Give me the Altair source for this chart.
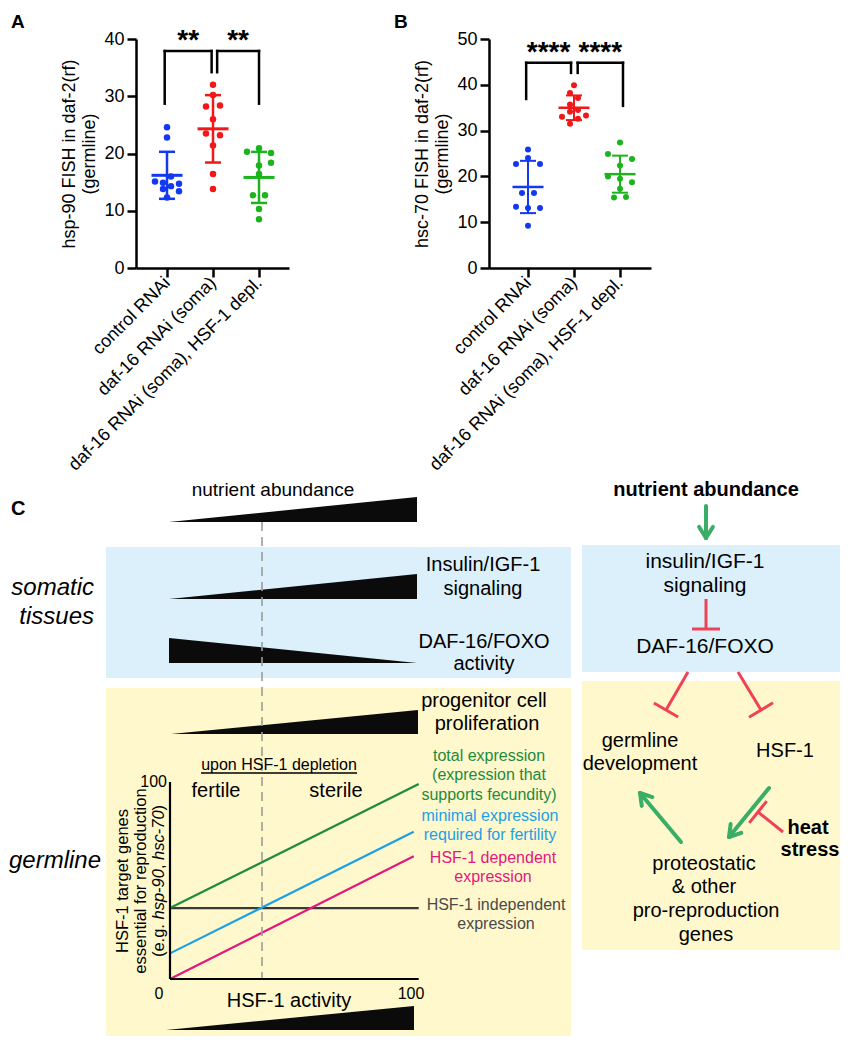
import math
import altair as alt
import pandas as pd

FONT = "Liberation Sans"

# ---------------- Panels A and B: data ----------------
GROUPS = ["control RNAi", "daf-16 RNAi (soma)", "daf-16 RNAi (soma), HSF-1 depl."]

# Panel A: hsp-90 FISH in daf-2(rf) (germline), one value per animal
hsp90_control = [24.6, 22.8, 16.0, 15.1, 14.9, 14.7, 14.3, 13.8, 13.4, 12.3]
hsp90_daf16 = [32.0, 30.2, 28.2, 28.4, 26.0, 23.5, 23.2, 21.4, 16.4, 13.8]
hsp90_daf16_hsf1 = [20.3, 20.9, 20.1, 18.4, 17.9, 16.4, 12.7, 12.7, 10.3, 8.5]

# Panel B: hsc-70 FISH in daf-2(rf) (germline)
hsc70_control = [25.9, 24.0, 22.7, 22.7, 16.4, 16.4, 13.4, 13.1, 13.1, 9.2]
hsc70_daf16 = [39.9, 38.2, 37.1, 35.7, 34.5, 34.1, 33.0, 33.3, 32.6, 31.5]
hsc70_daf16_hsf1 = [27.4, 24.9, 23.8, 22.4, 20.0, 19.5, 18.7, 17.3, 15.4, 15.5]

# horizontal scatter of the dots within a column (pixels)
jit_a = [[0, 0, 4, -12, -4, 12, 4, -4, 12, 0],
         [0, 0, -7, 7, 0, -7, 7, 0, 0, 0],
         [-12, 0, 12, 12, 0, 0, -6, 6, 0, 0]]
jit_b = [[0, 0, -12, 12, -6, 6, -12, 0, 12, 0],
         [0, -4, 4, -4, 4, -4, -12, 12, 4, -4],
         [0, -12, 12, 0, -12, 0, 12, 0, -6, 6]]

sig_a = ["**", "**"]
sig_b = ["****", "****"]

PT_COLORS = ["#1238f0", "#f01818", "#1cb41c"]
PXU = 46.0  # pixels per category step


def scatter_panel(vals, jits, ytitle, ymax, xdom, width, brackets, sig, star_y,
                  letter, letter_dx, ebw, pt_size):
    rows = []
    for gi in range(3):
        for v, j in zip(vals[gi], jits[gi]):
            rows.append({"g": gi, "grp": GROUPS[gi], "v": v, "jit": j})
    df = pd.DataFrame(rows)
    xs = alt.Scale(domain=xdom, nice=False, zero=False)
    ys = alt.Scale(domain=[0, ymax], nice=False)
    label_expr = "[" + ",".join("'%s'" % g for g in GROUPS) + "][datum.value]"
    xaxis = alt.Axis(values=[0, 1, 2], labelExpr=label_expr, labelAngle=-45,
                     labelAlign="right", labelBaseline="middle", labelFontSize=18,
                     labelColor="black", labelPadding=3, labelFont=FONT, labelLimit=500,
                     labelOverlap=False, labelBound=False, labelFlush=False,
                     tickSize=9, tickWidth=2.5, tickColor="black",
                     domainColor="black", domainWidth=2.5, grid=False, title=None)
    yaxis = alt.Axis(values=list(range(0, ymax + 1, 10)), labelFontSize=18,
                     labelColor="black", labelFont=FONT, labelPadding=3,
                     tickSize=9, tickWidth=2.5, tickColor="black",
                     domainColor="black", domainWidth=2.5, grid=False,
                     title=ytitle, titleFontSize=18, titleFontWeight="normal",
                     titleColor="black", titleFont=FONT, titlePadding=5, titleLimit=500)

    def X(f):
        return alt.X(f, scale=xs, axis=xaxis)

    def Y(f):
        return alt.Y(f, scale=ys, axis=yaxis)

    color = alt.Color("grp:N", scale=alt.Scale(domain=GROUPS, range=PT_COLORS), legend=None)

    pts = alt.Chart(df).transform_calculate(
        xp="datum.g + datum.jit / %f" % PXU
    ).mark_circle(size=pt_size, opacity=1).encode(x=X("xp:Q"), y=Y("v:Q"), color=color)

    agg = alt.Chart(df).transform_aggregate(
        m="mean(v)", s="stdev(v)", groupby=["g", "grp"]
    ).transform_calculate(
        lo="datum.m - datum.s", hi="datum.m + datum.s",
        cl="datum.g - 0.174", cr="datum.g + 0.174",
        ml="datum.g - 0.337", mr="datum.g + 0.337",
    )
    vbar = agg.mark_rule(strokeWidth=ebw).encode(x=X("g:Q"), y=Y("lo:Q"), y2=alt.Y2("hi:Q"), color=color)
    ctop = agg.mark_rule(strokeWidth=ebw).encode(x=X("cl:Q"), x2=alt.X2("cr:Q"), y=Y("hi:Q"), color=color)
    cbot = agg.mark_rule(strokeWidth=ebw).encode(x=X("cl:Q"), x2=alt.X2("cr:Q"), y=Y("lo:Q"), color=color)
    mline = agg.mark_rule(strokeWidth=ebw + 0.5).encode(x=X("ml:Q"), x2=alt.X2("mr:Q"), y=Y("m:Q"), color=color)

    seg = []
    stars = []
    for (xl, xr, top, yl, yr), s in zip(brackets, sig):
        seg += [dict(x=xl, x2=xr, y=top, y2=top),
                dict(x=xl, x2=xl, y=top, y2=yl),
                dict(x=xr, x2=xr, y=top, y2=yr)]
        stars.append(dict(x=(xl + xr) / 2, y=star_y, t=s))
    brk = alt.Chart(pd.DataFrame(seg)).mark_rule(strokeWidth=2.5, color="black", strokeCap="square").encode(
        x=X("x:Q"), x2=alt.X2("x2:Q"), y=Y("y:Q"), y2=alt.Y2("y2:Q"))
    st = alt.Chart(pd.DataFrame(stars)).mark_text(
        fontSize=28, fontWeight="bold", font=FONT, baseline="middle", align="center", color="black"
    ).encode(x=X("x:Q"), y=Y("y:Q"), text="t:N")
    let = alt.Chart(pd.DataFrame({"t": [letter]})).mark_text(
        fontSize=19, fontWeight="bold", font=FONT, align="left", baseline="alphabetic", color="black"
    ).encode(text="t:N", x=alt.value(letter_dx), y=alt.value(-11))
    return alt.layer(brk, pts, vbar, ctop, cbot, mline, st, let).properties(width=width, height=229)


panel_a = scatter_panel(
    [hsp90_control, hsp90_daf16, hsp90_daf16_hsf1], jit_a,
    ["hsp-90 FISH in daf-2(rf)", "(germline)"], 40, [-0.674, 2.652], 153,
    [(-0.05, 0.97, 37.9, 28.7, 34.2), (1.09, 2.0, 37.9, 34.2, 28.7)], sig_a, 39.6,
    "A", -125, 2.5, 42)
panel_b = scatter_panel(
    [hsc70_control, hsc70_daf16, hsc70_daf16_hsf1], jit_b,
    ["hsc-70 FISH in daf-2(rf)", "(germline)"], 50, [-0.848, 2.674], 162,
    [(-0.04, 0.935, 44.8, 36.9, 42.6), (1.08, 2.065, 44.8, 42.6, 35.4)], sig_b, 47.0,
    "B", -95, 2.0, 36)

# ---------------- Panel C: schematic ----------------
# plot area of panel C is aligned with panel A's plot origin (page x = 135)
CX0, CW = 135, 705
CY0, CH = 478, 564
cxs = alt.Scale(domain=[CX0, CX0 + CW], nice=False, zero=False)
cys = alt.Scale(domain=[CY0, CY0 + CH], nice=False, zero=False, reverse=True)


def cx(f):
    return alt.X(f, scale=cxs, axis=None)


def cy(f):
    return alt.Y(f, scale=cys, axis=None)


BLUE_BOX = "#dcf0fb"
YELLOW_BOX = "#fff8cd"
boxes = pd.DataFrame({
    "x": [105, 581, 105, 581], "x2": [570, 839, 570, 839],
    "y": [548, 546, 689, 682], "y2": [679, 673, 1037, 951],
    "c": [BLUE_BOX, BLUE_BOX, YELLOW_BOX, YELLOW_BOX],
})
box_layer = alt.Chart(boxes).mark_rect().encode(
    x=cx("x:Q"), x2=alt.X2("x2:Q"), y=cy("y:Q"), y2=alt.Y2("y2:Q"),
    color=alt.Color("c:N", scale=None))

# wedges: (name, x_left, x_right, base_y, height_left, height_right)
wedges = [("nutrient", 168, 416, 523, 0, 25),
          ("iis", 168, 416, 600, 0, 25),
          ("daf16", 168, 416, 664, 25, 0),
          ("progenitor", 170, 417, 735, 0, 24),
          ("hsf1", 165, 413, 1031, 0, 24)]
wrows = []
for n, xl, xr, base, hl, hr in wedges:
    wrows.append(dict(w=n, x=xl, yt=base - hl, yb=base))
    wrows.append(dict(w=n, x=xr, yt=base - hr, yb=base))
wedge_layer = alt.Chart(pd.DataFrame(wrows)).mark_area(color="#0b0b0b", orient="vertical").encode(
    x=cx("x:Q"), y=cy("yt:Q"), y2=alt.Y2("yb:Q"), detail="w:N")

# graph of HSF-1 target expression vs HSF-1 activity (0-100 on both axes)
GX0, GX1, GY0, GY1 = 169, 417.7, 980, 783
series = ["HSF-1 independent", "total", "minimal", "HSF-1 dependent"]
series_colors = ["#3a3a3a", "#1d8b3c", "#1ca0e4", "#e2197c"]
activity_ends = [[0, 100], [0, 100], [0, 98], [0, 98]]
expression_ends = [[36, 36], [36, 99], [13, 74.8], [0, 62.3]]
lrows = []
for s, col, aa, vv in zip(series, series_colors, activity_ends, expression_ends):
    for a, v in zip(aa, vv):
        lrows.append(dict(s=s, c=col, a=a, v=v))
line_layer = alt.Chart(pd.DataFrame(lrows)).transform_calculate(
    px="%f + %f * datum.a" % (GX0, (GX1 - GX0) / 100),
    py="%f - %f * datum.v" % (GY0, (GY0 - GY1) / 100),
).mark_line(strokeWidth=2.2).encode(
    x=cx("px:Q"), y=cy("py:Q"), color=alt.Color("c:N", scale=None), detail="s:N")

# dashed threshold line (HSF-1 activity ~37)
dash_df = pd.DataFrame({"x": [261], "y": [523], "y2": [980]})
dash_layer = alt.Chart(dash_df).mark_rule(color="#9c9c9c", strokeWidth=1.6, strokeDash=[9, 6]).encode(
    x=cx("x:Q"), y=cy("y:Q"), y2=alt.Y2("y2:Q"))

# black segments: graph axes + underline
black_segs = pd.DataFrame([
    dict(x=GX0, y=GY1, x2=GX0, y2=GY0, w=2.2),
    dict(x=GX0, y=GY0, x2=GX1, y2=GY0, w=2.2),
    dict(x=200, y=774, x2=356, y2=774, w=1.3),
])
black_layer = alt.Chart(black_segs).mark_rule(color="black").encode(
    x=cx("x:Q"), y=cy("y:Q"), x2=alt.X2("x2:Q"), y2=alt.Y2("y2:Q"),
    strokeWidth=alt.StrokeWidth("w:Q", scale=None))

# inhibition (T-bar) and activation (arrow) links: (start, end)
inhibitions = [((705, 600), (705, 630)), ((687, 673), (665, 711)),
               ((737, 673), (760, 711)), ((782, 833), (757, 813))]
activations = [((705, 507), (705, 539)), ((680, 843), (639, 794)), ((768, 789), (728, 838))]
red_rows, green_rows = [], []
for (x0, y0), (x1, y1) in inhibitions:
    L = math.hypot(x1 - x0, y1 - y0)
    ux, uy = (x1 - x0) / L, (y1 - y0) / L
    px_, py_ = -uy, ux
    red_rows.append(dict(x=x0, y=y0, x2=x1, y2=y1))
    red_rows.append(dict(x=x1 - 14 * px_, y=y1 - 14 * py_, x2=x1 + 14 * px_, y2=y1 + 14 * py_))
for (x0, y0), (x1, y1) in activations:
    L = math.hypot(x1 - x0, y1 - y0)
    ux, uy = (x1 - x0) / L, (y1 - y0) / L
    green_rows.append(dict(x=x0, y=y0, x2=x1, y2=y1))
    for sgn in (1, -1):
        ang = math.radians(32) * sgn
        bx = -(ux * math.cos(ang) - uy * math.sin(ang))
        by = -(ux * math.sin(ang) + uy * math.cos(ang))
        green_rows.append(dict(x=x1, y=y1, x2=x1 + 13 * bx, y2=y1 + 13 * by))
red_layer = alt.Chart(pd.DataFrame(red_rows)).mark_rule(color="#ef4257", strokeWidth=3).encode(
    x=cx("x:Q"), y=cy("y:Q"), x2=alt.X2("x2:Q"), y2=alt.Y2("y2:Q"))
green_layer = alt.Chart(pd.DataFrame(green_rows)).mark_rule(
    color="#3aad66", strokeWidth=4, strokeCap="round").encode(
    x=cx("x:Q"), y=cy("y:Q"), x2=alt.X2("x2:Q"), y2=alt.Y2("y2:Q"))

# texts
texts = []


def T(t, x, y, size, color="black", weight="normal", style="normal", align="center", angle=0):
    texts.append(dict(t=t, x=x, y=y, size=size, color=color, weight=weight,
                      style=style, align=align, angle=angle))


T("C", 10, 510, 20, weight="bold", align="left")
T("nutrient  abundance", 272, 491, 19)
T("Insulin/IGF-1", 482, 566, 20)
T("signaling", 482, 590, 20)
T("DAF-16/FOXO", 483, 643, 20)
T("activity", 483, 665, 20)
T("progenitor cell", 483, 702, 20)
T("proliferation", 486, 725, 20)
T("upon HSF-1 depletion", 278, 766, 16)
T("fertile", 215, 792, 20)
T("sterile", 335, 792, 20)
T("100", 166, 783, 16, align="right")
T("0", 158, 995, 16)
T("100", 410, 995, 16)
T("HSF-1 activity", 288, 1002, 20)
T("somatic", 93, 589, 24, style="italic", align="right")
T("tissues", 93, 618, 24, style="italic", align="right")
T("germline", 100, 862, 24, style="italic", align="right")
GREEN_T, BLUE_T, PINK_T, GRAY_T = "#1d8b3c", "#1ca0e4", "#e2197c", "#4a4a4a"
T("total expression", 488, 757, 16, GREEN_T)
T("(expression that", 488, 776, 16, GREEN_T)
T("supports fecundity)", 488, 796, 16, GREEN_T)
T("minimal expression", 489, 817, 16, BLUE_T)
T("required for fertility", 489, 836, 16, BLUE_T)
T("HSF-1 dependent", 492, 859, 16, PINK_T)
T("expression", 492, 878, 16, PINK_T)
T("HSF-1 independent", 495, 906, 16, GRAY_T)
T("expression", 495, 925, 16, GRAY_T)
T("HSF-1 target genes", 122, 882, 16.5, angle=270)
T("essential for reproduction", 140, 882, 16.5, angle=270)
# third rotated line with italic gene names
ARIAL = {"(": .333, ")": .333, "e": .556, ".": .278, "g": .556, " ": .278, "h": .556,
         "s": .5, "p": .556, "-": .333, "9": .556, "0": .556, ",": .278, "c": .5, "7": .556}
pieces = [("(e.g. ", "normal"), ("hsp-90", "italic"), (", ", "normal"), ("hsc-70", "italic"), (")", "normal")]
fs3 = 16.5
tot = sum(sum(ARIAL[ch] for ch in p) for p, _ in pieces) * fs3
ycur = 882 + tot / 2
for p, sty in pieces:
    T(p, 158, ycur, fs3, style=sty, align="left", angle=270)
    ycur -= sum(ARIAL[ch] for ch in p) * fs3
# right-hand pathway
T("nutrient  abundance", 705, 491, 20, weight="bold")
T("insulin/IGF-1", 704, 563, 21)
T("signaling", 704, 587, 21)
T("DAF-16/FOXO", 704, 648, 21)
T("germline", 639, 742, 20)
T("development", 639, 765, 20)
T("HSF-1", 784, 752, 20)
T("heat", 807, 829, 20, weight="bold")
T("stress", 809, 851, 20, weight="bold")
T("proteostatic", 703, 865, 20)
T("& other", 703, 888, 20)
T("pro-reproduction", 705, 912, 20)
T("genes", 705, 936, 20)

tdf = pd.DataFrame(texts)
text_layers = []
for (w, s, a, ang), sub in tdf.groupby(["weight", "style", "align", "angle"]):
    text_layers.append(
        alt.Chart(sub.drop(columns=["weight", "style", "align", "angle"])).mark_text(
            font=FONT, fontWeight=w, fontStyle=s, align=a, angle=float(ang), baseline="middle"
        ).encode(x=cx("x:Q"), y=cy("y:Q"), text="t:N",
                 size=alt.Size("size:Q", scale=None), color=alt.Color("color:N", scale=None))
    )

panel_c = alt.layer(box_layer, wedge_layer, line_layer, dash_layer, black_layer,
                    red_layer, green_layer, *text_layers).properties(width=CW, height=CH)

top = alt.hconcat(panel_a, panel_b, spacing=105)
chart = alt.vconcat(top, panel_c, spacing=3).properties(
    padding={"left": 0, "top": 5, "right": 0, "bottom": 0}
).configure(font=FONT).configure_view(stroke=None)

chart.save("out.html", embed_options={"renderer": "svg", "actions": False})
